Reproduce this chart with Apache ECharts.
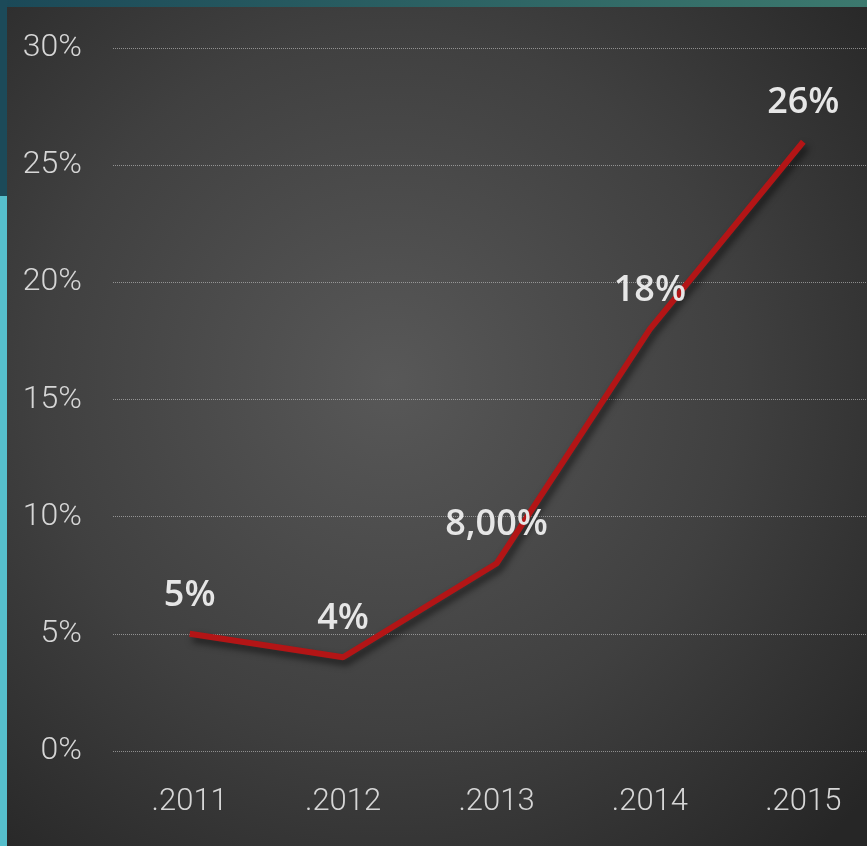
<!DOCTYPE html>
<html>
<head>
<meta charset="utf-8">
<script src="https://cdn.jsdelivr.net/npm/echarts@6/dist/echarts.min.js"></script>
<style>
html,body{margin:0;padding:0;background:#2b2b2b;}
#main{width:867px;height:846px;}
</style>
</head>
<body>
<div id="main"></div>
<script>
var categories = ['.2011', '.2012', '.2013', '.2014', '.2015'];
var values = [5, 4, 8, 18, 26];
var labelTexts = ['5%', '4%', '8,00%', '18%', '26%'];
var yTicks = { min: 0, max: 30, interval: 5 };

var chart = echarts.init(document.getElementById('main'), null, { renderer: 'canvas' });
var option = {
  backgroundColor: {
    type: 'radial', x: 0.45, y: 0.45, r: 0.75,
    colorStops: [
      { offset: 0, color: '#585858' },
      { offset: 0.55, color: '#404040' },
      { offset: 1, color: '#262626' }
    ]
  },
  graphic: [
    { type: 'rect', z: -10, shape: { x: 0, y: 0, width: 867, height: 7 },
      style: { fill: { type: 'linear', x: 0, y: 0, x2: 1, y2: 0,
        colorStops: [{ offset: 0, color: '#1b4958' }, { offset: 1, color: '#3c796e' }] } } },
    { type: 'rect', z: -10, shape: { x: 0, y: 0, width: 7, height: 196 },
      style: { fill: '#1c4a59' } },
    { type: 'rect', z: -10, shape: { x: 0, y: 196, width: 7, height: 650 },
      style: { fill: '#56bfcc' } }
  ],
  grid: { left: 113, width: 767, top: 48, bottom: 95, containLabel: false, outerBoundsMode: 'none' },
  xAxis: {
    type: 'category',
    data: categories,
    boundaryGap: true,
    axisLine: { show: false },
    axisTick: { show: false },
    axisLabel: {
      color: '#d6d6d6', fontFamily: 'Roboto', fontWeight: 300, fontSize: 31, margin: 36
    },
    splitLine: { show: false }
  },
  yAxis: {
    type: 'value',
    min: yTicks.min, max: yTicks.max, interval: yTicks.interval,
    axisLine: { show: false },
    axisTick: { show: false },
    axisLabel: {
      color: '#d6d6d6', fontFamily: 'Roboto', fontWeight: 300, fontSize: 32, margin: 31,
      padding: [4, 0, 0, 0],
      formatter: function (v) { return v + '%'; }
    },
    splitLine: { show: true, lineStyle: { color: 'rgba(200,200,200,0.6)', type: 'dotted', width: 1 } }
  },
  series: [{
    type: 'line',
    data: values,
    symbol: 'circle',
    symbolSize: 1,
    showSymbol: true,
    itemStyle: { color: 'rgba(0,0,0,0)' },
    smooth: false,
    lineStyle: {
      color: '#b31516', width: 6,
      shadowColor: 'rgba(0,0,0,0.6)', shadowBlur: 7, shadowOffsetX: 3, shadowOffsetY: 5
    },
    label: {
      show: true, position: 'top', distance: 20,
      color: '#e6e6e6', fontFamily: 'Open Sans', fontWeight: 600, fontSize: 36,
      formatter: function (p) { return labelTexts[p.dataIndex]; }
    },
    labelLayout: { hideOverlap: false }
  }]
};
chart.setOption(option);
</script>
</body>
</html>
